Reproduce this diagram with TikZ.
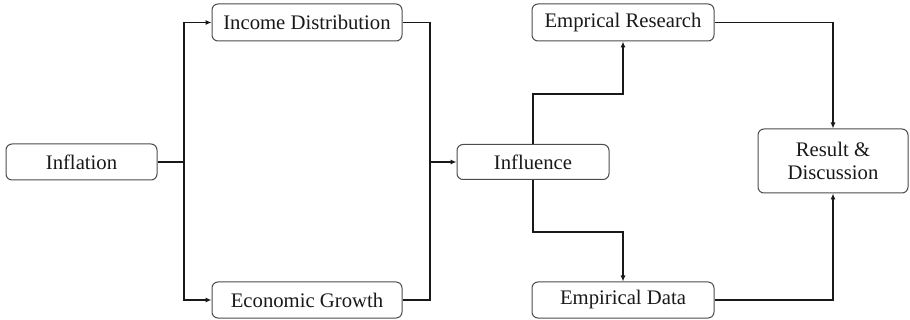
\documentclass[tikz,border=0pt]{standalone}
\usepackage{fontspec}
\setmainfont{Liberation Serif}
\usetikzlibrary{arrows.meta}
\begin{document}
\begin{tikzpicture}[x=1pt,y=-1pt,
  box/.style={draw=black!70, line width=1pt, rounded corners=6pt, inner sep=0pt, align=center,
    font=\fontsize{20.7}{23.5}\selectfont, text=black!90},
  conn/.style={line width=1.1pt, black!90},
  arr/.style={conn, -{Latex[length=6pt,width=5pt]}}]
\useasboundingbox (0,0) rectangle (910,320);
\node[box, minimum width=151pt, minimum height=36pt] (infl) at (81.5,162) {Inflation};
\node[box, minimum width=190pt, minimum height=37pt] (inc) at (307,22.5) {Income Distribution};
\node[box, minimum width=190pt, minimum height=36pt] (eco) at (307,300) {Economic Growth};
\node[box, minimum width=152pt, minimum height=35pt] (inf2) at (533,162) {Influence};
\node[box, minimum width=182pt, minimum height=37pt] (emr) at (623,22.5) {Emprical Research};
\node[box, minimum width=182pt, minimum height=36pt] (emd) at (623,300) {Empirical Data};
\node[box, minimum width=150pt, minimum height=64pt] (res) at (833,161) {Result \&\\Discussion};
\coordinate (j1) at (184,162);
\coordinate (j2) at (430,162);
\coordinate (k1) at (533,94);
\coordinate (k2) at (533,232);
\draw[conn] (infl.east) -- (j1);
\draw[arr] (j1) |- (inc.west);
\draw[arr] (j1) |- (eco.west);
\draw[conn] (inc.east) -| (j2);
\draw[conn] (eco.east) -| (j2);
\draw[arr] (j2) -- (inf2.west);
\draw[arr] (inf2.north) -- (k1) -| (emr.south);
\draw[arr] (inf2.south) -- (k2) -| (emd.north);
\draw[arr] (emr.east) -| (res.north);
\draw[arr] (emd.east) -| (res.south);
\end{tikzpicture}
\end{document}
